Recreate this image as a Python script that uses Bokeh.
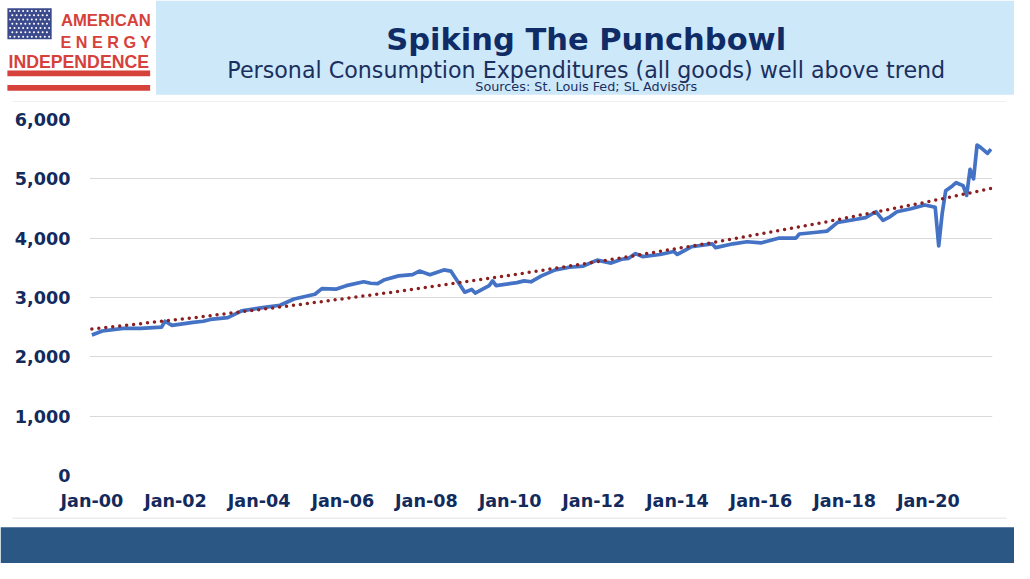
import pandas as pd
from bokeh.plotting import figure
from bokeh.layouts import column
from bokeh.models import Range1d, FixedTicker, NumeralTickFormatter
from bokeh.core.properties import value
from bokeh.embed import file_html
from bokeh.resources import INLINE

# ---------------- data ----------------
months = ["2000-01", "2000-04", "2000-10", "2001-03", "2001-09", "2001-10", "2001-12",
          "2002-06", "2002-09", "2002-11", "2003-04", "2003-08", "2004-02", "2004-07",
          "2004-11", "2005-05", "2005-07", "2005-11", "2006-02", "2006-07", "2006-09",
          "2006-11", "2007-01", "2007-05", "2007-09", "2007-11", "2008-02", "2008-06",
          "2008-08", "2008-12", "2009-02", "2009-03", "2009-07", "2009-08", "2009-09",
          "2010-03", "2010-05", "2010-07", "2010-10", "2011-02", "2011-06", "2011-10",
          "2012-02", "2012-06", "2012-09", "2012-11", "2013-01", "2013-03", "2013-08",
          "2013-12", "2014-01", "2014-05", "2014-11", "2014-12", "2015-05", "2015-09",
          "2016-01", "2016-06", "2016-11", "2016-12", "2017-05", "2017-08", "2017-11",
          "2018-04", "2018-07", "2018-10", "2018-12", "2019-02", "2019-04", "2019-08",
          "2019-12", "2020-03", "2020-04", "2020-05", "2020-06", "2020-08", "2020-09",
          "2020-11", "2020-12", "2021-01", "2021-02", "2021-03", "2021-04", "2021-05",
          "2021-06", "2021-07"]
pce_goods = [2369, 2435, 2480, 2480, 2500, 2600, 2530,
             2580, 2600, 2630, 2660, 2775, 2830, 2870,
             2975, 3055, 3150, 3140, 3200, 3265, 3240,
             3235, 3300, 3365, 3385, 3445, 3385, 3465,
             3445, 3090, 3135, 3075, 3200, 3280, 3200,
             3250, 3280, 3265, 3365, 3465, 3510, 3530,
             3630, 3580, 3645, 3660, 3740, 3690, 3725,
             3775, 3725, 3855, 3905, 3840, 3905, 3940,
             3920, 4000, 4000, 4070, 4100, 4120, 4265,
             4315, 4345, 4445, 4300, 4360, 4445, 4495,
             4560, 4520, 3870, 4420, 4800, 4885, 4935,
             4885, 4720, 5160, 5000, 5570, 5530, 5480,
             5430, 5500]

trend_months = ["2000-01", "2002-07", "2005-01", "2007-07", "2010-01", "2012-07",
                "2015-01", "2017-07", "2020-01", "2021-07"]
trend_values = [2467, 2665, 2884, 3120, 3374, 3650, 3945, 4267, 4615, 4837]

tick_months = ["2000-01", "2002-01", "2004-01", "2006-01", "2008-01", "2010-01",
               "2012-01", "2014-01", "2016-01", "2018-01", "2020-01"]
tick_labels = ["Jan-00", "Jan-02", "Jan-04", "Jan-06", "Jan-08", "Jan-10",
               "Jan-12", "Jan-14", "Jan-16", "Jan-18", "Jan-20"]
y_ticks = [0, 1000, 2000, 3000, 4000, 5000, 6000]

title = "Spiking The Punchbowl"
subtitle = "Personal Consumption Expenditures (all goods) well above trend"
source_note = "Sources: St. Louis Fed; SL Advisors"
logo_lines = ["AMERICAN", "E N E R G Y", "INDEPENDENCE"]


def month_index(labels):
    d = pd.to_datetime(pd.Series(labels), format="%Y-%m")
    return list((d.dt.year - 2000) * 12 + (d.dt.month - 1))


x_data = month_index(months)
x_trend = month_index(trend_months)
x_ticks = month_index(tick_months)

# ---------------- geometry: reference px -> page px ----------------
W, H = 1014, 563
SX, SY = W / 1030.0, H / 579.0
H_HEAD = round(105 * SY)            # reference rows 0..105
H_FOOT = H - round(532 * SY)        # reference rows 532..579
H_CHART = H - H_HEAD - H_FOOT

NAVY = "#122A5C"
FONT = "DejaVu Sans"
RED = "#D6413B"
GRID = "#D9D9D9"


def deco_figure(height, y0, y1):
    f = figure(width=W, height=height, x_range=Range1d(0, 1030), y_range=Range1d(y1, y0),
               output_backend="svg", toolbar_location=None, min_border=0, frame_align=False)
    f.axis.visible = False
    f.grid.grid_line_color = None
    f.outline_line_color = None
    f.background_fill_color = "white"
    f.border_fill_color = "white"
    return f


def txt(f, x, y, s, size, color, bold=False, font=FONT):
    f.text(x=[x], y=[y], text=[s], text_font=value(font), text_font_size=size,
           text_font_style="bold" if bold else "normal", text_color=color,
           text_align="center", text_baseline="alphabetic")


# ---------------- header ----------------
header = deco_figure(H_HEAD, 0, 105)
header.quad(left=158, right=1030, top=0, bottom=97, fill_color="#CDE8F9", line_color=None)
header.segment(x0=12, y0=104.6, x1=1022, y1=104.6, line_color=GRID, line_width=1)

# logo
header.quad(left=7, right=52, top=8, bottom=40, fill_color="#3A4A8C", line_color=None)
sx, sy = [], []
for r in range(7):
    for c in range(10 if r % 2 == 0 else 9):
        sx.append(9.8 + c * 4.4 + (r % 2) * 2.2)
        sy.append(10.8 + r * 4.4)
header.scatter(sx, sy, size=2.0, color="white", line_color=None)
txt(header, 107, 21, logo_lines[0], "16.7px", RED, True, "Liberation Sans")
txt(header, 107, 43, logo_lines[1], "16.2px", RED, True, "Liberation Sans")
txt(header, 79.5, 63, logo_lines[2], "17.7px", RED, True, "Liberation Sans")
header.quad(left=[7, 7], right=[152, 152], top=[72, 87], bottom=[78, 93],
            fill_color=RED, line_color=None)

txt(header, 595, 40, title, "30.5px", "#102C66", True)
txt(header, 595, 72, subtitle, "22.2px", "#1B2F5E")
txt(header, 595, 89, source_note, "12.8px", "#1B2F5E")

# ---------------- chart ----------------
frame_l, frame_r = 90 * SX, 1008 * SX
mb_l, mb_r = round(frame_l), round(W - frame_r)
mb_t = round(122 * SY) - H_HEAD
mb_b = H_HEAD + H_CHART - round(489 * SY)
frame_w = W - mb_l - mb_r
px_per_month = 3.54 * SX
x0 = -(92.8 * SX - mb_l) / px_per_month

chart = figure(width=W, height=H_CHART, x_range=Range1d(x0, x0 + frame_w / px_per_month),
               y_range=Range1d(0, 6000), output_backend="svg", toolbar_location=None,
               min_border_left=mb_l, min_border_right=mb_r,
               min_border_top=mb_t, min_border_bottom=mb_b, frame_align=False)
chart.background_fill_color = "white"
chart.border_fill_color = "white"
chart.outline_line_color = None
chart.xgrid.grid_line_color = None
chart.ygrid.grid_line_color = GRID
chart.ygrid.grid_line_width = 1

chart.line(x_data, pce_goods, line_color="#4472C4", line_width=3.7, line_join="round")
chart.line(x_trend, trend_values, line_color="#8B1E1E", line_width=3.5,
           line_dash="0 7", line_cap="round")

chart.xaxis.ticker = FixedTicker(ticks=x_ticks)
chart.xaxis.major_label_overrides = {int(t): lab for t, lab in zip(x_ticks, tick_labels)}
chart.yaxis.ticker = FixedTicker(ticks=y_ticks)
chart.yaxis.formatter = NumeralTickFormatter(format="0,0")
for ax in (chart.xaxis[0], chart.yaxis[0]):
    ax.axis_line_color = None
    ax.major_tick_line_color = None
    ax.minor_tick_line_color = None
    ax.major_label_text_font = FONT
    ax.major_label_text_font_style = "bold"
    ax.major_label_text_font_size = "17.6px"
    ax.major_label_text_color = NAVY
chart.yaxis.major_label_standoff = 13
chart.xaxis.major_label_standoff = 9

# ---------------- footer ----------------
footer = deco_figure(H_FOOT, 532, 579)
footer.segment(x0=12, y0=532.5, x1=1022, y1=532.5, line_color=GRID, line_width=1)
footer.quad(left=0, right=1030, top=542, bottom=579, fill_color="#2B5784", line_color=None)

p = column(header, chart, footer)
open("out.html", "w").write(file_html(p, INLINE))
